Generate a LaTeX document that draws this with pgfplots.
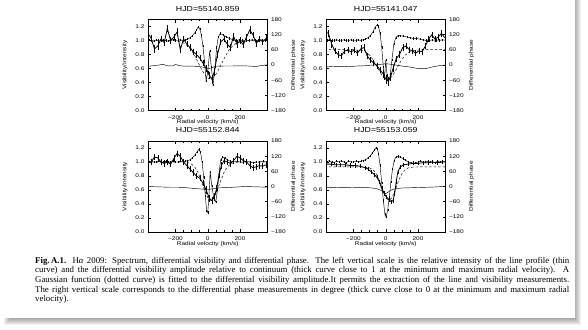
\documentclass[border=0pt]{standalone}
\usepackage{fontspec}
\setmainfont{Liberation Serif}
\newfontfamily\idl[FakeStretch=1.2]{Liberation Sans}
\usepackage{pgfplots}
\pgfplotsset{compat=1.18}
\pgfplotsset{
  base/.style={width=119.5pt, height=91pt, scale only axis, xmin=-370, xmax=370, clip=true,
    tick align=inside, major tick length=3pt, minor tick length=1.6pt,
    every tick/.append style={line width=0.4pt, black},
    axis line style={line width=0.5pt},
    tick label style={font=\idl\fontsize{5.4}{6}\selectfont},
    label style={font=\idl\fontsize{5.4}{6}\selectfont}},
  vis/.style={base, ymin=0, ymax=1.3,
    xtick={-200,0,200}, xticklabels={−200,0,200}, minor x tick num=3,
    ytick={0,0.2,0.4,0.6,0.8,1.0,1.2}, yticklabels={0.0,0.2,0.4,0.6,0.8,1.0,1.2},
    ytick pos=left,
    xlabel={Radial velocity (km/s)}, ylabel={Visibility/Intensity},
    xlabel style={at={(axis description cs:0.5,-0.132)}, anchor=center},
    ylabel style={at={(axis description cs:-0.1925,0.5)}, anchor=center},
    xticklabel style={yshift=-1.5pt},
    title style={font=\idl\fontsize{7.3}{8}\selectfont, at={(axis description cs:0.5,1)}, anchor=south, inner sep=0pt, yshift=1.8pt}},
  pha/.style={base, ymin=-180, ymax=180, axis x line=none, axis y line*=right,
    ytick={-180,-120,-60,0,60,120,180}, yticklabels={−180,−120,−60,0,60,120,180},
    ylabel={Differential phase},
    ylabel style={at={(axis description cs:1.2176,0.5)}, anchor=center}},
  pA/.style={black, line width=0.45pt, mark=|, mark size=1.1pt, mark options={line width=0.3pt}},
  pB/.style={black, line width=0.8pt, mark=none, error bars/.cd, y dir=both, y explicit,
    error bar style={line width=0.35pt}, error mark options={line width=0.35pt, mark size=1pt}},
  pC/.style={black, line width=0.45pt, dash pattern=on 2.5pt off 2pt},
  pD/.style={black, line width=0.45pt},
}
\begin{document}
\begin{tikzpicture}
\useasboundingbox (0,0) rectangle (588pt,-329pt);
\fill[white] (0,0) rectangle (588pt,-329pt);
\foreach \r in {-4,...,4} {
  \fill[black, opacity=0.055] (8pt-\r pt,10pt) rectangle (577pt+\r pt,-321pt-\r pt);
}
\fill[white] (-10pt,10pt) rectangle (575pt,-318pt);

% ---------------- Panel 1 ----------------
\begin{axis}[vis, at={(148pt,-110.5pt)}, anchor=south west, title={HJD=55140.859}]
\addplot[pA] table {
-380 1.00
-365 1.01
-350 1.00
-335 0.99
-320 1.01
-305 1.00
-290 1.00
-275 1.01
-260 1.00
-245 0.99
-230 1.00
-215 1.01
-200 1.00
-185 1.00
-170 1.01
-155 1.00
-140 1.01
-125 1.02
-110 1.04
-95 1.07
-80 1.11
-70 1.15
-60 1.19
-50 1.17
-40 1.08
-30 0.92
-20 0.70
-10 0.42
0 0.55
12 0.85
22 0.62
33 0.37
45 0.62
55 0.90
65 1.05
78 1.10
95 1.08
115 1.05
135 1.03
155 1.01
175 1.00
195 1.01
215 1.00
235 0.99
255 1.00
275 1.01
295 1.00
315 1.00
335 1.01
355 1.00
380 1.00
};
\addplot[pB] table[x index=0, y index=1, y error index=2] {
-370 1.10 0.03
-350 1.03 0.03
-330 0.88 0.04
-310 0.92 0.04
-290 1.02 0.03
-270 0.97 0.03
-250 1.17 0.04
-230 1.00 0.03
-210 1.05 0.03
-190 1.12 0.04
-170 0.87 0.04
-150 1.02 0.03
-130 0.95 0.03
-110 0.90 0.03
-90 0.84 0.03
-70 0.80 0.03
-50 0.75 0.03
-30 0.68 0.03
-10 0.60 0.04
10 0.50 0.04
25 0.45 0.05
40 0.55 0.04
60 0.80 0.04
80 0.98 0.03
100 1.02 0.03
120 0.95 0.04
140 0.90 0.04
160 1.06 0.03
180 0.95 0.04
200 1.00 0.03
220 0.94 0.04
240 1.05 0.03
260 1.15 0.04
280 1.08 0.03
300 0.96 0.04
320 1.02 0.03
340 0.98 0.03
360 1.03 0.03
};
\addplot[pC] table {
-380 1.0
-250 1.0
-200 0.995
-150 0.966
-120 0.914
-100 0.857
-80 0.781
-60 0.690
-40 0.596
-20 0.515
0 0.463
15 0.45
30 0.463
50 0.515
70 0.596
90 0.690
110 0.781
130 0.857
150 0.914
180 0.966
230 0.995
280 1.0
380 1.0
};
\end{axis}
\begin{axis}[pha, at={(148pt,-110.5pt)}, anchor=south west]
\addplot[pD] table {
-380 -5
-340 -3
-300 0
-280 3
-250 -3
-220 -4
-200 2
-170 -3
-140 -5
-100 -4
-60 -6
-30 -8
0 -15
20 -12
50 -5
100 -4
150 -4
200 -3
250 -4
300 -6
330 -2
380 1
};
\end{axis}

% ---------------- Panel 2 ----------------
\begin{axis}[vis, at={(326pt,-110.5pt)}, anchor=south west, title={HJD=55141.047}]
\addplot[pA] table {
-380 1.00
-365 1.00
-350 1.01
-335 1.00
-320 1.00
-305 1.01
-290 1.00
-275 1.00
-260 1.01
-245 1.00
-230 1.00
-215 1.01
-200 1.00
-185 1.00
-170 1.01
-155 1.00
-140 1.01
-125 1.02
-110 1.04
-95 1.07
-80 1.12
-68 1.18
-55 1.22
-45 1.20
-35 1.10
-25 0.90
-15 0.62
-8 0.45
0 0.72
8 0.50
16 0.40
26 0.48
38 0.72
50 0.95
62 1.04
75 1.07
90 1.07
110 1.06
130 1.05
150 1.04
170 1.03
190 1.03
210 1.02
230 1.01
250 1.00
270 1.00
290 1.01
310 1.00
330 1.00
350 1.01
380 1.00
};
\addplot[pB] table[x index=0, y index=1, y error index=2] {
-370 1.12 0.03
-355 1.10 0.03
-335 0.95 0.04
-315 0.85 0.03
-295 0.80 0.03
-275 0.78 0.03
-255 0.85 0.03
-235 0.86 0.03
-215 0.84 0.03
-195 0.86 0.03
-175 0.82 0.03
-155 0.88 0.04
-135 0.90 0.04
-115 0.78 0.03
-95 0.72 0.03
-75 0.68 0.03
-55 0.64 0.03
-35 0.58 0.03
-15 0.52 0.04
0 0.45 0.05
15 0.42 0.05
30 0.48 0.04
45 0.60 0.04
65 0.74 0.03
85 0.80 0.03
105 0.90 0.03
125 0.92 0.03
145 0.87 0.03
165 0.85 0.03
185 0.82 0.03
205 0.85 0.03
225 0.84 0.03
245 0.92 0.03
265 1.02 0.03
285 1.08 0.03
305 1.02 0.03
325 1.05 0.03
345 1.10 0.03
365 1.04 0.03
};
\addplot[pC] table {
-380 0.87
-200 0.869
-150 0.858
-120 0.829
-100 0.79
-80 0.73
-60 0.652
-40 0.566
-20 0.491
0 0.446
10 0.44
20 0.446
40 0.491
60 0.566
80 0.652
100 0.73
120 0.79
140 0.829
170 0.858
220 0.869
380 0.87
};
\end{axis}
\begin{axis}[pha, at={(326pt,-110.5pt)}, anchor=south west]
\addplot[pD] table {
-380 -8
-330 -6
-280 -5
-230 -7
-180 -4
-130 -3
-80 0
-40 2
0 5
30 3
60 0
100 -4
150 -8
200 -14
250 -14
300 -6
340 -2
380 0
};
\end{axis}

% ---------------- Panel 3 ----------------
\begin{axis}[vis, at={(148pt,-232pt)}, anchor=south west, title={HJD=55152.844}]
\addplot[pA] table {
-380 1.00
-365 1.00
-350 1.01
-335 1.00
-320 1.00
-305 1.01
-290 1.00
-275 1.00
-260 1.01
-245 1.00
-230 1.00
-215 1.01
-200 1.00
-185 1.00
-170 1.01
-155 1.00
-140 1.01
-125 1.02
-110 1.03
-95 1.06
-80 1.10
-68 1.14
-55 1.18
-45 1.14
-35 1.00
-25 0.78
-15 0.52
-7 0.30
0 0.28
7 0.50
15 0.86
25 0.66
38 0.48
50 0.43
60 0.60
70 0.85
80 1.03
92 1.07
105 1.06
120 1.03
140 1.01
160 1.00
180 1.01
200 1.00
220 1.00
240 1.01
260 1.00
280 0.99
300 1.00
320 1.00
340 1.01
360 1.00
380 1.00
};
\addplot[pB] table[x index=0, y index=1, y error index=2] {
-370 1.00 0.03
-350 1.00 0.03
-330 1.07 0.03
-310 1.06 0.03
-290 1.00 0.03
-270 0.98 0.03
-250 1.00 0.03
-230 0.97 0.03
-210 1.05 0.03
-190 1.12 0.03
-170 1.08 0.03
-150 1.00 0.03
-130 0.95 0.03
-110 0.90 0.03
-90 0.85 0.03
-70 0.80 0.03
-50 0.77 0.03
-30 0.70 0.03
-10 0.60 0.04
10 0.48 0.04
25 0.45 0.04
40 0.50 0.04
55 0.62 0.04
70 0.82 0.03
85 0.95 0.03
100 1.02 0.03
120 1.00 0.03
140 0.98 0.03
160 1.02 0.03
180 1.08 0.03
200 1.06 0.03
220 1.02 0.03
240 1.00 0.03
260 0.95 0.03
280 0.92 0.03
300 0.93 0.03
320 0.95 0.03
340 0.94 0.03
360 0.96 0.03
375 0.97 0.03
};
\addplot[pC] table {
-380 1.0
-150 0.998
-120 0.989
-100 0.969
-80 0.926
-60 0.847
-40 0.732
-20 0.601
0 0.492
20 0.45
40 0.492
60 0.601
80 0.732
100 0.847
120 0.926
140 0.969
160 0.989
190 0.998
380 1.0
};
\end{axis}
\begin{axis}[pha, at={(148pt,-232pt)}, anchor=south west]
\addplot[pD] table {
-380 0
-330 -1
-280 -2
-230 -3
-180 -3
-130 -5
-80 -8
-40 -10
0 -12
40 -8
80 -5
130 -4
180 -2
230 0
280 -1
330 -2
380 -3
};
\end{axis}

% ---------------- Panel 4 ----------------
\begin{axis}[vis, at={(326pt,-232pt)}, anchor=south west, title={HJD=55153.059}]
\addplot[pA] table {
-380 1.01
-365 1.00
-350 1.02
-335 1.00
-320 0.99
-305 1.01
-290 1.00
-275 1.02
-260 1.00
-245 0.99
-230 1.01
-215 1.00
-200 1.00
-185 1.01
-170 1.00
-155 1.01
-140 1.02
-125 1.03
-110 1.06
-95 1.09
-82 1.13
-70 1.17
-60 1.20
-52 1.19
-45 1.12
-35 0.95
-25 0.70
-15 0.45
-5 0.25
2 0.21
12 0.32
22 0.50
32 0.72
42 0.90
52 1.02
62 1.07
75 1.08
90 1.07
105 1.05
120 1.03
140 1.00
155 0.99
170 0.98
185 0.99
200 1.00
215 1.01
230 1.00
245 1.00
260 1.01
275 1.00
290 1.00
305 0.99
320 1.01
335 1.00
350 1.00
365 1.01
380 1.00
};
\addplot[pB] table[x index=0, y index=1, y error index=2] {
-370 0.97 0.015
-340 0.97 0.015
-310 0.96 0.015
-280 0.96 0.015
-250 0.96 0.015
-220 0.95 0.015
-190 0.95 0.015
-160 0.94 0.015
-130 0.92 0.015
-110 0.90 0.015
-90 0.86 0.015
-70 0.82 0.015
-55 0.78 0.015
-40 0.72 0.015
-25 0.62 0.02
-10 0.55 0.02
5 0.50 0.02
20 0.46 0.02
35 0.43 0.02
45 0.45 0.02
55 0.55 0.02
65 0.72 0.02
75 0.86 0.015
90 0.93 0.015
110 0.96 0.015
140 0.97 0.015
170 0.98 0.015
200 0.98 0.015
230 0.99 0.015
260 0.99 0.015
290 1.00 0.015
320 0.99 0.015
350 1.00 0.015
370 1.00 0.015
};
\addplot[pC] table {
-380 0.93
-180 0.93
-130 0.928
-100 0.917
-80 0.891
-60 0.833
-40 0.735
-20 0.608
0 0.496
20 0.45
40 0.496
60 0.608
80 0.735
100 0.833
120 0.891
140 0.917
170 0.928
220 0.93
380 0.93
};
\end{axis}
\begin{axis}[pha, at={(326pt,-232pt)}, anchor=south west]
\addplot[pD] table {
-380 -5
-300 -4
-200 -5
-150 -3
-100 -5
-60 -8
-30 -15
0 -28
20 -20
40 -12
70 -8
100 -6
200 -4
300 -2
380 1
};
\end{axis}

% ---------------- Caption ----------------
\node[anchor=base west, inner sep=0pt] at (35pt,-263pt) {%
\begin{minipage}[t]{534pt}\fontsize{8.8}{9.7}\selectfont\setlength{\parindent}{0pt}%
\makebox[534pt][s]{\textbf{Fig.\,A.1.} H\textit{α} 2009: Spectrum, differential visibility and differential phase. The left vertical scale is the relative intensity of the line profile (thin}\\
\makebox[534pt][s]{curve) and the differential visibility amplitude relative to continuum (thick curve close to 1 at the minimum and maximum radial velocity). A}\\
\makebox[534pt][s]{Gaussian function (dotted curve) is fitted to the differential visibility amplitude.It permits the extraction of the line and visibility measurements.}\\
\makebox[534pt][s]{The right vertical scale corresponds to the differential phase measurements in degree (thick curve close to 0 at the minimum and maximum radial}\\
velocity).
\end{minipage}};
\end{tikzpicture}
\end{document}
